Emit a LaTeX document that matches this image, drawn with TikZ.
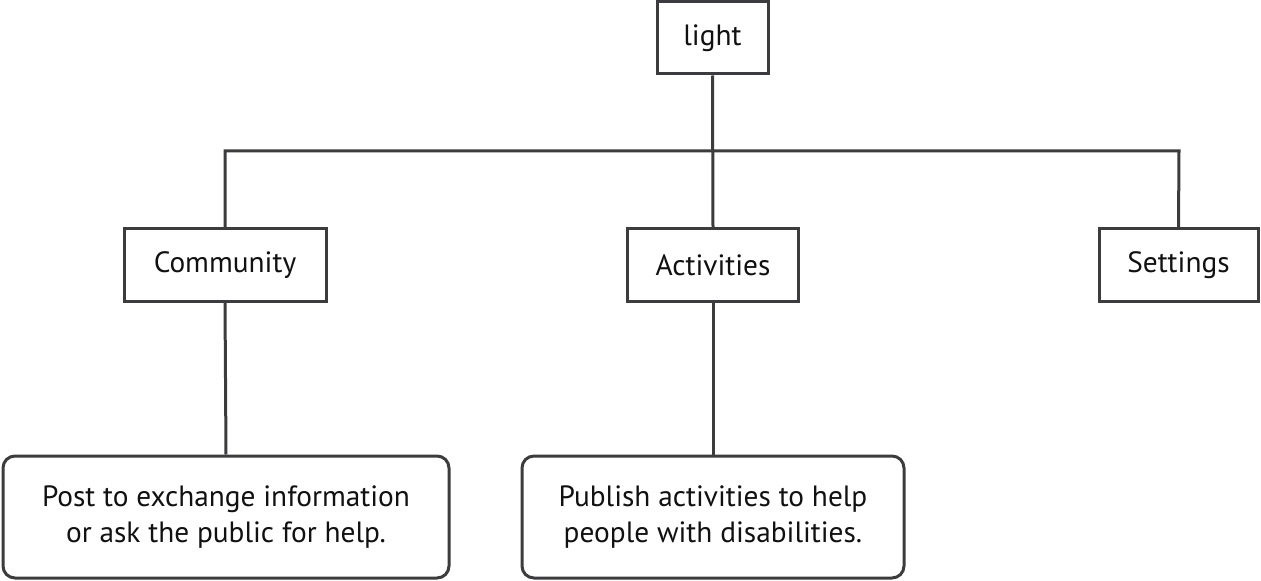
\documentclass[tikz,border=0pt]{standalone}
\usepackage{fontspec}
\setmainfont{PT Sans}
\definecolor{linec}{HTML}{3C3C3F}
\definecolor{textc}{HTML}{111111}
\begin{document}
\begin{tikzpicture}[x=0.75pt,y=-0.75pt,
  box/.style={draw=linec,line width=2.25pt,fill=white,text=textc,font=\fontsize{22}{27}\selectfont,inner sep=0pt,align=center},
  conn/.style={draw=linec,line width=2.25pt}]
\useasboundingbox (0,0) rectangle (1261,581);
\node[box,minimum width=83.25pt,minimum height=54pt] (light) at (712.5,38) {light};
\node[box,minimum width=151.5pt,minimum height=54pt] (comm) at (225,265) {Community};
\node[box,minimum width=128.25pt,minimum height=54pt] (act) at (713,265) {Activities};
\node[box,minimum width=119.25pt,minimum height=54pt] (sett) at (1178.5,265) {Settings};
\node[box,rounded corners=9pt,minimum width=334.5pt,minimum height=91.5pt] (cdesc) at (226,517) {Post to exchange information\\or ask the public for help.};
\node[box,rounded corners=9pt,minimum width=286.5pt,minimum height=91.5pt] (adesc) at (713,517) {Publish activities to help\\people with disabilities.};
\coordinate (busL) at (225,151);
\coordinate (busR) at (1179,151);
\draw[conn] (light.south) -- (act.north);
\draw[conn] (comm.north) -- (busL) -- (busR) -- (sett.north);
\draw[conn] (comm.south) -- (cdesc.north);
\draw[conn] (act.south) -- (adesc.north);
\end{tikzpicture}
\end{document}
